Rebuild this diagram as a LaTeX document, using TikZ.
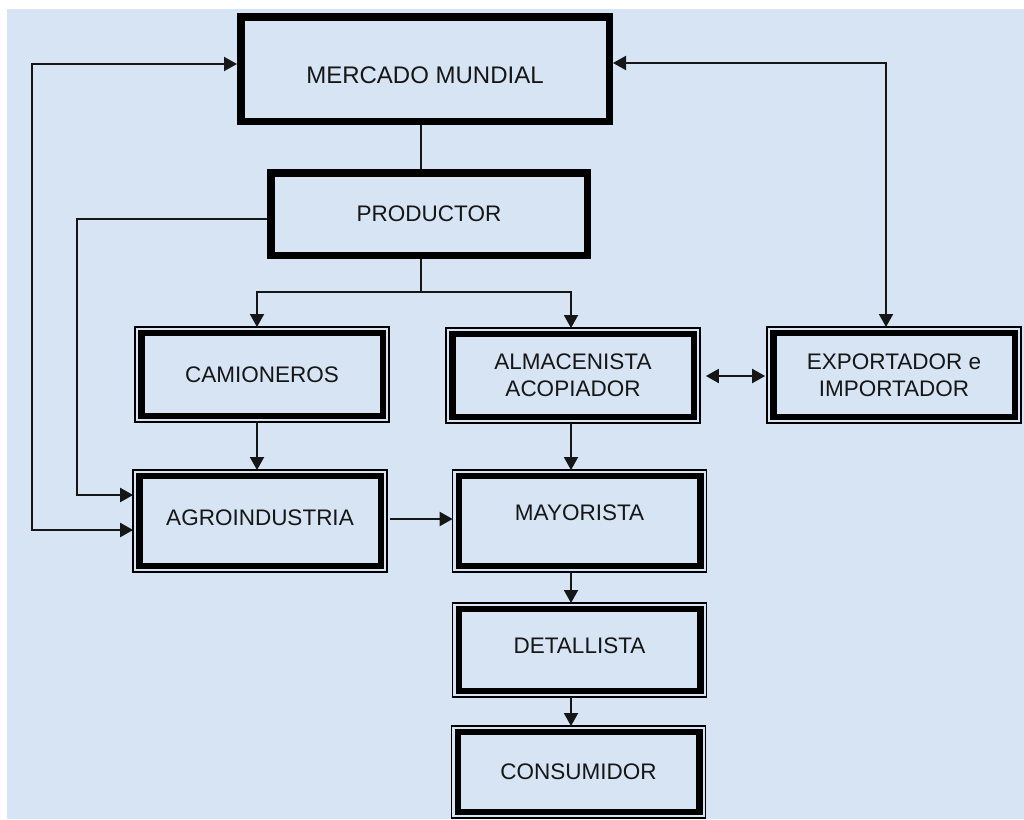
\documentclass[tikz,border=0pt]{standalone}
\usepackage{fontspec}
\setmainfont{Liberation Sans}
\usetikzlibrary{arrows.meta}
\definecolor{bgblue}{RGB}{214,228,244}
\definecolor{ink}{RGB}{22,22,22}
\begin{document}
\begin{tikzpicture}[x=1pt,y=-1pt,
  conn/.style={draw=ink, line width=2pt},
  arr/.style={conn, -{Triangle[length=13pt,width=14pt]}},
  arrb/.style={conn, {Triangle[length=13pt,width=14pt]}-{Triangle[length=13pt,width=14pt]}},
  boxtext/.style={text=ink, align=center, font=\fontsize{22.5}{27}\selectfont},
  sbox/.style={boxtext, draw=black, line width=7.5pt, inner sep=0pt},
  dbox/.style={boxtext, draw=black, line width=6.5pt, outer sep=6.1pt, inner sep=0pt,
               minimum width=241.5pt},
  frame/.style={draw=black, line width=1.4pt}
]
\useasboundingbox (0,0) rectangle (1024,819);
\fill[white] (0,0) rectangle (1024,819);
\fill[bgblue] (7,9) rectangle (1024,819);

% boxes
\node[sbox, minimum width=368.5pt, minimum height=104.5pt,
      font=\fontsize{24}{28}\selectfont, text height=28pt, text depth=0pt]
  (mm) at (425,69) {MERCADO MUNDIAL};
\node[sbox, minimum width=316.5pt, minimum height=82.5pt] (prod) at (429,214) {PRODUCTOR};
\node[dbox, minimum height=82.8pt] (cam) at (262,374.5) {CAMIONEROS};
\node[dbox, minimum height=82.8pt] (alm) at (573,375.5) {ALMACENISTA\\ACOPIADOR};
\node[dbox, minimum height=83.8pt] (exp) at (894,375) {EXPORTADOR e\\IMPORTADOR};
\node[dbox, minimum height=89.8pt, text height=16pt, text depth=8pt] (agro) at (260,521) {AGROINDUSTRIA};
\node[dbox, minimum height=89.8pt, text height=16pt, text depth=18pt] (may) at (579.5,521) {MAYORISTA};
\node[dbox, minimum height=81.8pt, text height=16pt, text depth=10pt] (det) at (579.5,650) {DETALLISTA};
\node[dbox, minimum height=79.8pt] (con) at (578.5,772) {CONSUMIDOR};

% thin outer frames of the double-bordered boxes
\foreach \n in {cam,alm,exp,agro,may,det,con}
  \draw[frame] (\n.north west) rectangle (\n.south east);

% helper coordinates for the routing
\coordinate (j)  at (421,292);
\coordinate (jl) at (257,292);
\coordinate (jr) at (571,292);
\coordinate (am) at (420,519);
\coordinate (ae) at (735,376);
\coordinate (pl) at (77,219);
\coordinate (pa) at (77,495);
\coordinate (o1) at (32,64);
\coordinate (o2) at (32,530);
\coordinate (e1) at (886,63);

% connectors
\draw[conn] (mm.south -| j) -- (prod.north -| j);
\draw[arr] (prod.south -| j) -- (j) -- (jl) -- (jl |- cam.north);
\draw[arr] (j) -- (jr) -- (jr |- alm.north);
\draw[arr] (jl |- cam.south) -- (jl |- agro.north);
\draw[arr] (jr |- alm.south) -- (jr |- may.north);
\draw[arr] (jr |- may.south) -- (jr |- det.north);
\draw[arr] (jr |- det.south) -- (jr |- con.north);
\draw[arr, shorten <=3pt] (agro.east |- am) -- (may.west |- am);
\draw[arrb, shorten <=6pt, shorten >=2pt] (alm.east |- ae) -- (exp.west |- ae);
\draw[arr] (prod.west |- pl) -- (pl) -- (pa) -- (agro.west |- pa);
\draw[arrb] (mm.west |- o1) -- (o1) -- (o2) -- (agro.west |- o2);
\draw[arrb] (mm.east |- e1) -- (e1) -- (e1 |- exp.north);
\end{tikzpicture}
\end{document}
